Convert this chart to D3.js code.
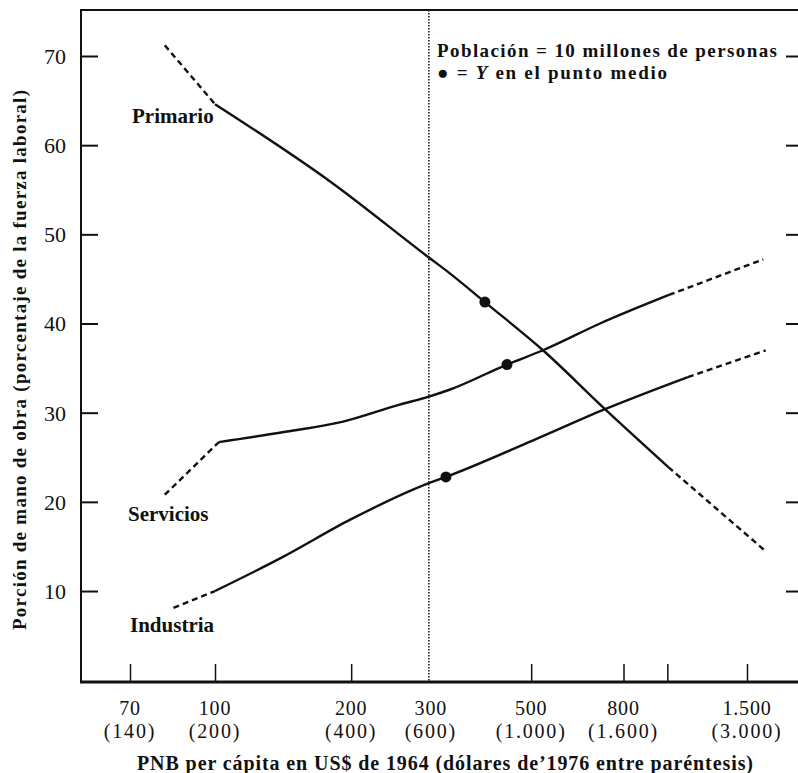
<!DOCTYPE html>
<html>
<head>
<meta charset="utf-8">
<script src="https://cdn.jsdelivr.net/npm/d3@7"></script>
<style>
  body { margin: 0; background: #fff; }
  svg text { font-family: "Liberation Serif", "Times New Roman", serif; fill: #111; }
</style>
</head>
<body>
<div id="chart"></div>
<script>
// tick values / labels
let xTickVals = [70, 100, 200, 500, 800, 1000, 1500];
let xLabelVals = [70, 100, 200, 300, 500, 800, 1500];
let xLabels1964 = ["70", "100", "200", "300", "500", "800", "1.500"];
let xLabels1976 = ["(140)", "(200)", "(400)", "(600)", "(1.000)", "(1.600)", "(3.000)"];
let yTicks = [10, 20, 30, 40, 50, 60, 70];

// series (GNP per capita 1964 US$, share of labour force %)
let primarioGnp = [81, 100, 180, 297, 331, 395, 531, 728, 1005, 1655];
let primarioShare = [71.2, 64.6, 55.9, 47.4, 45.6, 42.4, 37.0, 30.4, 23.9, 14.4];

let serviciosGnp = [81, 102, 141, 192, 256, 297, 331, 442, 531, 710, 1008, 1630];
let serviciosShare = [20.8, 26.7, 27.8, 29.0, 30.9, 31.8, 32.6, 35.4, 37.0, 40.0, 43.2, 47.2];

let industriaGnp = [84, 100, 141, 199, 297, 324, 505, 728, 1110, 1650];
let industriaShare = [8.1, 10.0, 13.8, 18.0, 22.1, 22.8, 26.9, 30.4, 34.0, 37.0];

// midpoint dots
let dotGnp = [395, 442, 324];
let dotShare = [42.4, 35.4, 22.8];

let svgWidth = 798;
let svgHeight = 773;

let margin = { left: 81, right: 798, top: 10, bottom: 682 };

let svg = d3.select("#chart")
    .append("svg")
    .attr("width", svgWidth)
    .attr("height", svgHeight);

// log scale, piecewise (the 70 tick sits off the log spacing in the original)
let x = d3.scaleLog()
    .domain([70, 100, 1500])
    .range([130, 215, 747]);

let y = d3.scaleLinear()
    .domain([0, 70])
    .range([680.2, 56]);

// frame: top line
svg.append("line")
    .attr("x1", margin.left).attr("x2", margin.right)
    .attr("y1", margin.top).attr("y2", margin.top)
    .attr("stroke", "#111").attr("stroke-width", 2);

// left axis
let leftAxis = d3.axisLeft(y).tickValues(yTicks).tickSize(-17).tickPadding(15).tickSizeOuter(0);
let gl = svg.append("g")
    .attr("transform", `translate(${margin.left},0)`)
    .call(leftAxis);
gl.select(".domain").remove();
gl.selectAll(".tick line").attr("stroke", "#111").attr("stroke-width", 2);
gl.selectAll(".tick text")
    .style("font-size", "22px")
    .attr("dy", "0.34em");
svg.append("line")
    .attr("x1", margin.left).attr("x2", margin.left)
    .attr("y1", margin.top - 1).attr("y2", margin.bottom + 1)
    .attr("stroke", "#111").attr("stroke-width", 2);

// right ticks
let rightAxis = d3.axisRight(y).tickValues(yTicks).tickSize(-12).tickFormat("");
let gr = svg.append("g")
    .attr("transform", `translate(${margin.right},0)`)
    .call(rightAxis);
gr.select(".domain").remove();
gr.selectAll(".tick line").attr("stroke", "#111").attr("stroke-width", 2);

// bottom axis
let bottomAxis = d3.axisBottom(x).tickValues(xTickVals).tickSize(-18).tickFormat("");
let gb = svg.append("g")
    .attr("transform", `translate(0,${margin.bottom})`)
    .call(bottomAxis);
gb.select(".domain").remove();
gb.selectAll(".tick line").attr("stroke", "#111").attr("stroke-width", 1.5);
svg.append("line")
    .attr("x1", margin.left - 1).attr("x2", margin.right)
    .attr("y1", margin.bottom).attr("y2", margin.bottom)
    .attr("stroke", "#111").attr("stroke-width", 3);

// two-line x labels
let xl = svg.append("g");
xl.selectAll("text.l1")
    .data(xLabelVals)
    .enter()
    .append("text")
    .attr("class", "l1")
    .attr("x", d => x(d))
    .attr("y", 715)
    .attr("text-anchor", "middle")
    .style("font-size", "20px")
    .style("letter-spacing", "0.8px")
    .text((d, i) => xLabels1964[i]);
xl.selectAll("text.l2")
    .data(xLabelVals)
    .enter()
    .append("text")
    .attr("class", "l2")
    .attr("x", d => x(d))
    .attr("y", 738)
    .attr("text-anchor", "middle")
    .style("font-size", "20px")
    .style("letter-spacing", "1.8px")
    .text((d, i) => xLabels1976[i]);

// dotted line at 300
svg.append("line")
    .attr("x1", x(300) - 2).attr("x2", x(300) - 2)
    .attr("y1", margin.top).attr("y2", margin.bottom)
    .attr("stroke", "#111")
    .attr("stroke-width", 1.5)
    .attr("stroke-dasharray", "1.5,1.5");

// curves
let lineSolid = d3.line()
    .x(d => x(d[0]))
    .y(d => y(d[1]))
    .curve(d3.curveMonotoneX);
let lineDash = d3.line()
    .x(d => x(d[0]))
    .y(d => y(d[1]));

function drawSeries(gnp, share) {
    let pts = gnp.map((g, i) => [g, share[i]]);
    let n = pts.length;
    svg.append("path")
        .attr("d", lineSolid(pts.slice(1, n - 1)))
        .attr("fill", "none")
        .attr("stroke", "#111")
        .attr("stroke-width", 2.4);
    [pts.slice(0, 2), pts.slice(n - 2)].forEach(seg => {
        svg.append("path")
            .attr("d", lineDash(seg))
            .attr("fill", "none")
            .attr("stroke", "#111")
            .attr("stroke-width", 2.4)
            .attr("stroke-dasharray", "6,4");
    });
}
drawSeries(primarioGnp, primarioShare);
drawSeries(serviciosGnp, serviciosShare);
drawSeries(industriaGnp, industriaShare);

svg.selectAll("circle.mid")
    .data(dotGnp)
    .enter()
    .append("circle")
    .attr("class", "mid")
    .attr("cx", d => x(d))
    .attr("cy", (d, i) => y(dotShare[i]))
    .attr("r", 5.5)
    .attr("fill", "#111");

// series labels
let labels = [["Primario", 132, 123], ["Servicios", 128, 521], ["Industria", 130, 632]];
svg.selectAll("text.series")
    .data(labels)
    .enter()
    .append("text")
    .attr("class", "series")
    .attr("x", d => d[1])
    .attr("y", d => d[2])
    .style("font-size", "21px")
    .style("font-weight", "bold")
    .text(d => d[0]);

// legend note
svg.append("text")
    .attr("x", 437).attr("y", 57)
    .attr("textLength", 340)
    .attr("lengthAdjust", "spacing")
    .style("font-size", "19px")
    .style("font-weight", "bold")
    .text("Población = 10 millones de personas");
let l2 = svg.append("text")
    .attr("x", 437).attr("y", 79)
    .attr("textLength", 230)
    .attr("lengthAdjust", "spacing")
    .style("font-size", "19px")
    .style("font-weight", "bold");
l2.append("tspan").text("● = ");
l2.append("tspan").style("font-style", "italic").text("Y");
l2.append("tspan").text(" en el punto medio");

// axis titles
svg.append("text")
    .attr("x", 137).attr("y", 770)
    .attr("textLength", 616)
    .attr("lengthAdjust", "spacing")
    .style("font-size", "20px")
    .style("font-weight", "bold")
    .text("PNB per cápita en US$ de 1964 (dólares de’1976 entre paréntesis)");

svg.append("text")
    .attr("transform", "translate(26,630) rotate(-90)")
    .attr("textLength", 540)
    .attr("lengthAdjust", "spacing")
    .style("font-size", "19px")
    .style("font-weight", "bold")
    .text("Porción de mano de obra (porcentaje de la fuerza laboral)");
</script>
</body>
</html>
